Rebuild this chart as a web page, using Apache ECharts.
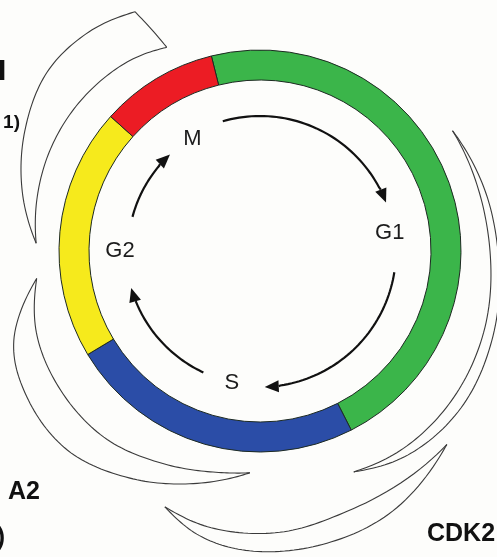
<!DOCTYPE html>
<html>
<head>
<meta charset="utf-8">
<script src="https://cdn.jsdelivr.net/npm/echarts@6/dist/echarts.min.js"></script>
<style>
  * { margin: 0; padding: 0; }
  html, body { background: #fdfdfb; }
  #cycle { width: 497px; height: 557px; }
</style>
</head>
<body>
<div id="cycle"></div>
<script>
// phases of the ring, clockwise from the top (degrees of the circle)
const phases = ["G1", "S", "G2", "M"];
const phaseSpan = [167, 86, 73, 34];
// where each phase name sits inside the ring: angle (deg, ccw from east), radius
const phaseLabelAngle = [8, 258, 180, 121];
const phaseLabelRadius = [131, 135, 140, 131];

// inner arrows: start angle, end angle (arrow head), radius
const arrowStart = [106, 351, 245, 165];
const arrowEnd = [21, 272, 196, 133];
const arrowRadius = [135, 136, 134, 132];

// outer crescents, edges as [angle, radius]
const crescentTopLeftOuter = [[117.6, 270], [128, 278], [140, 278], [153, 264], [166, 245], [178, 224]];
const crescentTopLeftInner = [[114.6, 224], [125, 231], [140, 234], [154, 233], [167, 229], [178, 224]];
const crescentTopLeftCap = [[117.6, 270], [114.6, 224]];
const crescentLeftOuter = [[187, 225], [200, 262], [212, 275], [226, 277], [240, 262], [254, 242], [267.4, 222]];
const crescentLeftInner = [[187, 225], [200, 238], [214, 243], [230, 243], [245, 234], [258, 226], [267.4, 222]];
const crescentRightOuter = [[32, 227], [15, 233], [0, 238], [-20, 248], [-38, 255], [-54, 252], [-67, 240]];
const crescentRightInner = [[32, 227], [15, 227], [0, 230], [-20, 238], [-38, 243], [-54, 244], [-67, 240]];
const crescentBottomOuter = [[249.6, 273], [258, 291], [268, 300], [282, 300], [297, 292], [314, 269]];
const crescentBottomInner = [[249.6, 273], [260, 281], [274, 282], [290, 274], [314, 269]];

// clipped captions at the edges of the figure
const cornerTexts = ["I", "1)", "A2", ")", "CDK2"];

const phaseColors = ["#3bb54a", "#2b4da7", "#f6ea1c", "#ec1c24"];
const norm = (a) => ((a % 360) + 360) % 360;

const edges = [
  crescentTopLeftOuter, crescentTopLeftInner, crescentTopLeftCap,
  crescentLeftOuter, crescentLeftInner,
  crescentRightOuter, crescentRightInner,
  crescentBottomOuter, crescentBottomInner,
];

const chart = echarts.init(document.getElementById("cycle"));

// Catmull-Rom through the [angle, radius] points, mapped by the polar axes
function renderEdge(params, api) {
  const edge = edges[api.value(0)];
  const pts = [];
  const m = edge.length;
  for (let i = 0; i < m - 1; i++) {
    const p0 = edge[Math.max(i - 1, 0)], p1 = edge[i], p2 = edge[i + 1], p3 = edge[Math.min(i + 2, m - 1)];
    const steps = 16;
    for (let s = 0; s < steps; s++) {
      const t = s / steps, t2 = t * t, t3 = t2 * t;
      const f = (k) => 0.5 * (2 * p1[k] + (-p0[k] + p2[k]) * t + (2 * p0[k] - 5 * p1[k] + 4 * p2[k] - p3[k]) * t2 + (-p0[k] + 3 * p1[k] - 3 * p2[k] + p3[k]) * t3);
      pts.push(api.coord([f(1), norm(f(0))]));
    }
  }
  const last = edge[m - 1];
  pts.push(api.coord([last[1], norm(last[0])]));
  return {
    type: "polyline",
    shape: { points: pts },
    style: { stroke: "#3a3a3a", lineWidth: 1.1, fill: null },
  };
}

function renderArrow(params, api) {
  const r = api.value(0);
  const a0 = api.value(1);
  const a1 = api.value(2);
  const n = 48;
  const pts = [];
  for (let i = 0; i <= n; i++) {
    pts.push(api.coord([r, norm(a0 + ((a1 - a0) * i) / n)]));
  }
  const tip = pts[n];
  const prev = pts[n - 1];
  let dx = tip[0] - prev[0], dy = tip[1] - prev[1];
  const len = Math.sqrt(dx * dx + dy * dy) || 1;
  dx /= len; dy /= len;
  const headLen = 14, headHalf = 6;
  const base = [tip[0] - dx * headLen, tip[1] - dy * headLen];
  const line = pts.filter((p) => Math.hypot(p[0] - tip[0], p[1] - tip[1]) > headLen);
  line.push(base);
  return {
    type: "group",
    children: [
      {
        type: "polyline",
        shape: { points: line },
        style: { stroke: "#111", lineWidth: 2.2, fill: null },
      },
      {
        type: "polygon",
        shape: {
          points: [
            tip,
            [base[0] - dy * headHalf, base[1] + dx * headHalf],
            [base[0] + dy * headHalf, base[1] - dx * headHalf],
          ],
        },
        style: { fill: "#111" },
      },
    ],
  };
}

function renderPhaseLabel(params, api) {
  const p = api.coord([api.value(0), api.value(1)]);
  return {
    type: "text",
    x: p[0],
    y: p[1],
    style: {
      text: phases[params.dataIndex],
      font: "22px 'Liberation Sans'",
      fill: "#1c1c1c",
      align: "center",
      verticalAlign: "middle",
    },
  };
}

const textStyle = (text, size, align) => ({
  text: text,
  font: "bold " + size + "px 'Liberation Sans'",
  fill: "#111",
  align: align,
  verticalAlign: "middle",
  textAlign: align,
  textVerticalAlign: "middle",
});

const option = {
  backgroundColor: "#fdfdfb",
  animation: false,
  polar: { center: [260, 251], radius: 320 },
  radiusAxis: { type: "value", min: 0, max: 320, show: false },
  angleAxis: { type: "value", min: 0, max: 360, startAngle: 0, clockwise: false, show: false },
  graphic: [
    { type: "text", x: -2, y: 72, style: textStyle(cornerTexts[0], 30, "left") },
    { type: "text", x: 20, y: 123, style: textStyle(cornerTexts[1], 19, "right") },
    { type: "text", x: 8, y: 492, style: textStyle(cornerTexts[2], 25, "left") },
    { type: "text", x: 5, y: 538, style: textStyle(cornerTexts[3], 25, "right") },
    { type: "text", x: 427, y: 534, style: textStyle(cornerTexts[4], 25, "left") },
  ],
  series: [
    {
      type: "pie",
      center: [260, 251],
      radius: [171, 201],
      startAngle: 104,
      clockwise: true,
      silent: true,
      label: { show: false },
      labelLine: { show: false },
      itemStyle: { borderColor: "#1d2a22", borderWidth: 1 },
      data: phases.map((name, i) => ({
        name: name,
        value: phaseSpan[i],
        itemStyle: { color: phaseColors[i] },
      })),
      z: 3,
    },
    {
      type: "custom",
      coordinateSystem: "polar",
      silent: true,
      renderItem: renderArrow,
      data: arrowStart.map((a, i) => [arrowRadius[i], a, arrowEnd[i]]),
      z: 4,
    },
    {
      type: "custom",
      coordinateSystem: "polar",
      silent: true,
      renderItem: renderEdge,
      data: edges.map((e, i) => [i, 0]),
      z: 1,
    },
    {
      type: "custom",
      coordinateSystem: "polar",
      silent: true,
      renderItem: renderPhaseLabel,
      data: phases.map((name, i) => [phaseLabelRadius[i], phaseLabelAngle[i]]),
      z: 5,
    },
  ],
};

chart.setOption(option);
</script>
</body>
</html>
